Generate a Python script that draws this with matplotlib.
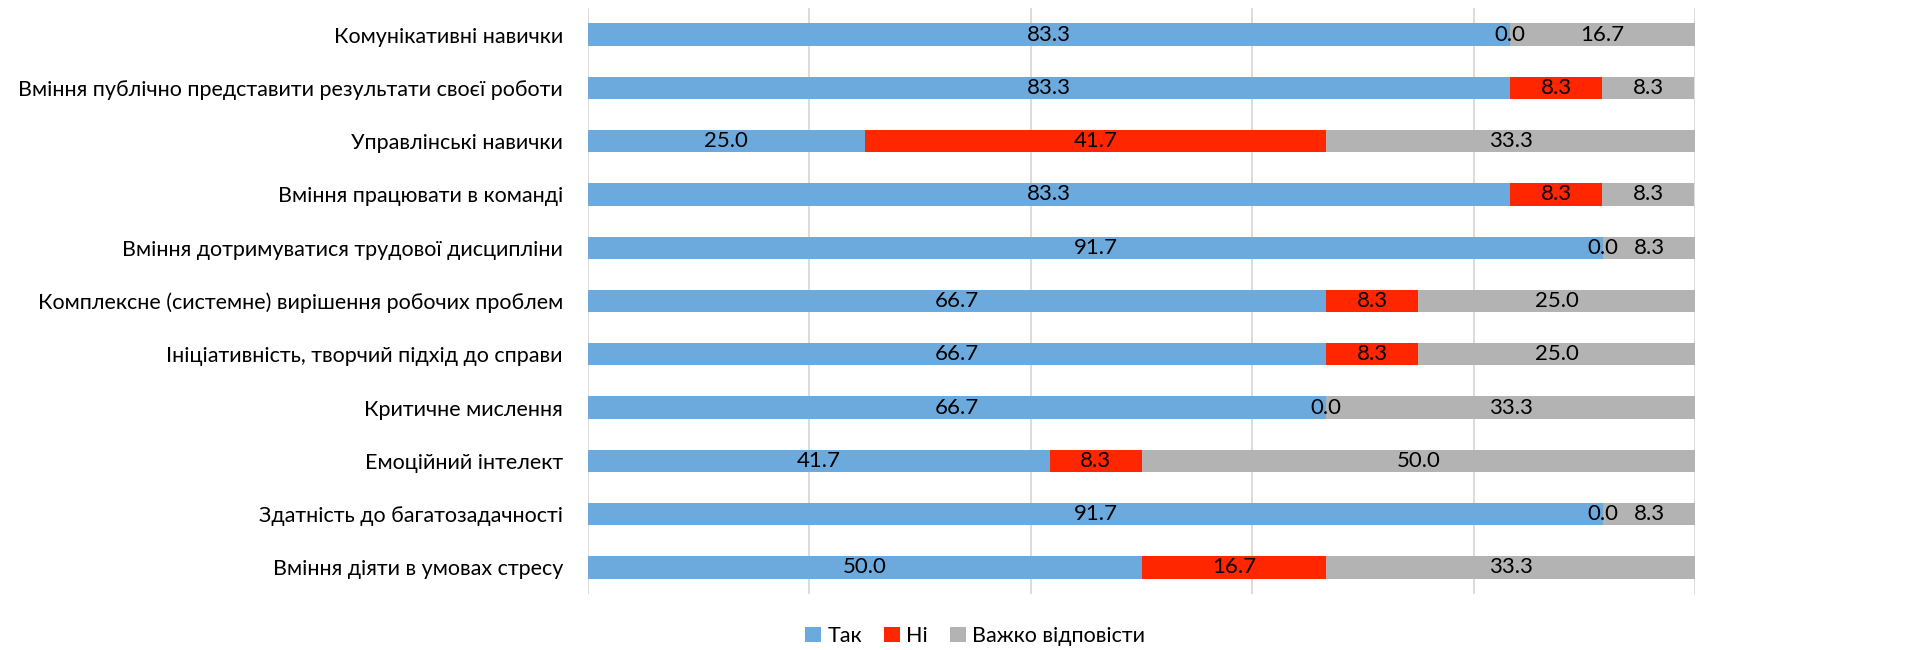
import matplotlib
matplotlib.use("Agg")
import matplotlib.pyplot as plt
import numpy as np

plt.rcParams['font.family'] = ['Lato', 'DejaVu Sans']

categories = [
    "Комунікативні навички",
    "Вміння публічно представити результати своєї роботи",
    "Управлінські навички",
    "Вміння працювати в команді",
    "Вміння дотримуватися трудової дисципліни",
    "Комплексне (системне) вирішення робочих проблем",
    "Ініціативність, творчий підхід до справи",
    "Критичне мислення",
    "Емоційний інтелект",
    "Здатність до багатозадачності",
    "Вміння діяти в умовах стресу",
]
tak = [83.3, 83.3, 25.0, 83.3, 91.7, 66.7, 66.7, 66.7, 41.7, 91.7, 50.0]
ni = [0.0, 8.3, 41.7, 8.3, 0.0, 8.3, 8.3, 0.0, 8.3, 0.0, 16.7]
vazhko = [16.7, 8.3, 33.3, 8.3, 8.3, 25.0, 25.0, 33.3, 50.0, 8.3, 33.3]
series_names = ["Так", "Ні", "Важко відповісти"]
colors = ["#6CA9DC", "#FF2600", "#B3B3B3"]

fig = plt.figure(figsize=(19.08, 6.5), dpi=100)
ax = fig.add_axes([588/1908, 1-594/650, (1695-588)/1908, (594-8)/650])

y = np.arange(len(categories))
left = np.zeros(len(categories))
fs = 15.5
for vals, name, c in zip([tak, ni, vazhko], series_names, colors):
    vals = np.array(vals)
    ax.barh(y, vals, left=left, height=0.42, color=c, label=name, zorder=2)
    for yi, l, v in zip(y, left, vals):
        ax.text(l + v/2, yi, f"{v:.1f}", ha='center', va='center', fontsize=16, color='black', zorder=3)
    left = left + vals

ax.set_xlim(0, 100)
ax.set_ylim(len(categories)-0.5, -0.5)
ax.set_xticks([0, 20, 40, 60, 80, 100])
ax.set_xticklabels([])
ax.tick_params(axis='x', length=0)
ax.tick_params(axis='y', length=0, pad=18, labelsize=fs)
ax.set_yticks(y)
ax.set_yticklabels(categories)
ax.grid(axis='x', color='#D9D9D9', linewidth=1.3, zorder=0)
ax.set_axisbelow(True)
for s in ax.spines.values():
    s.set_visible(False)

handles, labels = ax.get_legend_handles_labels()
fig.legend(handles, labels, loc='center', bbox_to_anchor=(975/1908, 1-636/650), ncol=3,
           frameon=False, fontsize=fs, handlelength=0.75, handleheight=0.75,
           handletextpad=0.3, columnspacing=1.0)

fig.savefig("out.png", dpi=100)
